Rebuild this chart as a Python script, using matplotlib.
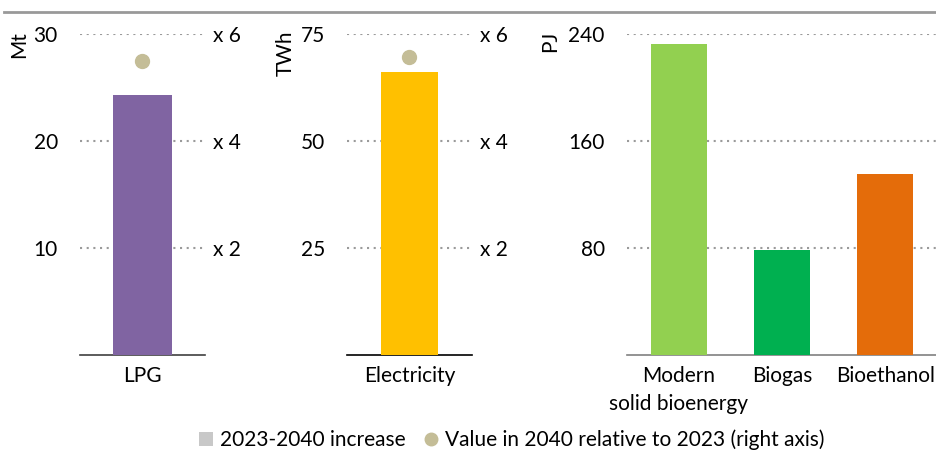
import matplotlib
matplotlib.use("Agg")
import matplotlib.pyplot as plt
from matplotlib.patches import Patch
from matplotlib.lines import Line2D

plt.rcParams["font.family"] = ["Lato", "DejaVu Sans"]

# ─── Data ────────────────────────────────────────────────────────────────────
lpg_cat      = ["LPG"]
lpg_increase = [24.3]          # Mt
lpg_ratio    = [5.5]           # x times 2023

elec_cat      = ["Electricity"]
elec_increase = [66.1]         # TWh
elec_ratio    = [5.57]

bio_cat      = ["Modern\nsolid bioenergy", "Biogas", "Bioethanol"]
bio_increase = [232.5, 78.5, 135.3]   # PJ

lpg_ticks  = [10, 20, 30]
elec_ticks = [25, 50, 75]
bio_ticks  = [80, 160, 240]
ratio_ticks  = [2, 4, 6]
ratio_labels = ["x 2", "x 4", "x 6"]

# ─── Style ───────────────────────────────────────────────────────────────────
C_LPG  = "#8064A2"
C_ELEC = "#FFC000"
C_BIO  = ["#92D050", "#00B050", "#E46C0A"]
C_DOT  = "#C4BD97"
C_GRID = "#9A9A9A"
FS = 15

W, H = 937, 454
fig = plt.figure(figsize=(W / 100, H / 100), dpi=100)

def px_axes(x0, x1, y_top=34, y_bot=355):
    return fig.add_axes([x0 / W, 1 - y_bot / H, (x1 - x0) / W, (y_bot - y_top) / H])

def style(ax, ticks, ymax, axis_color):
    ax.set_ylim(0, ymax)
    ax.set_yticks(ticks)
    ax.tick_params(axis="y", length=0, pad=16, labelsize=FS)
    ax.tick_params(axis="x", length=0, pad=8, labelsize=FS)
    for s in ["top", "right", "left"]:
        ax.spines[s].set_visible(False)
    ax.spines["bottom"].set_color(axis_color)
    ax.spines["bottom"].set_linewidth(1.2)
    ax.yaxis.grid(True, color=C_GRID, linestyle=(0, (1, 2.2)), linewidth=1.5)
    ax.set_axisbelow(True)

def add_ratio(ax, vals, scale_max):
    tw = ax.twinx()
    tw.set_ylim(0, scale_max)
    tw.set_yticks(ratio_ticks)
    tw.set_yticklabels(ratio_labels)
    tw.tick_params(axis="y", length=0, pad=6, labelsize=FS)
    for s in tw.spines.values():
        s.set_visible(False)
    tw.plot(range(len(vals)), vals, "o", color=C_DOT, markersize=10, zorder=5)
    return tw

# LPG
ax1 = px_axes(80, 205)
ax1.bar(range(len(lpg_cat)), lpg_increase, width=0.47, color=C_LPG, zorder=3)
ax1.set_xlim(-0.5, 0.5)
ax1.set_xticks(range(len(lpg_cat)))
ax1.set_xticklabels(lpg_cat)
style(ax1, lpg_ticks, 30, "#404040")
add_ratio(ax1, lpg_ratio, 6)

# Electricity
ax2 = px_axes(347, 472)
ax2.bar(range(len(elec_cat)), elec_increase, width=0.46, color=C_ELEC, zorder=3)
ax2.set_xlim(-0.5, 0.5)
ax2.set_xticks(range(len(elec_cat)))
ax2.set_xticklabels(elec_cat)
style(ax2, elec_ticks, 75, "#000000")
add_ratio(ax2, elec_ratio, 6)

# Bioenergy
ax3 = px_axes(627, 937)
ax3.bar(range(len(bio_cat)), bio_increase, width=0.54, color=C_BIO, zorder=3)
ax3.set_xlim(-0.5, 2.5)
ax3.set_xticks(range(len(bio_cat)))
ax3.set_xticklabels(bio_cat, linespacing=1.5, va="top")
style(ax3, bio_ticks, 240, "#808080")

# units
for x, txt in [(19, "Mt"), (286, "TWh"), (550, "PJ")]:
    fig.text(x / W, 1 - 31 / H, txt, rotation=90, ha="center", va="top", fontsize=FS)

# top rule
fig.add_artist(Line2D([4 / W, 1], [1 - 12 / H] * 2, color="#999999", linewidth=2))

# legend
handles = [
    Patch(facecolor="#C8C8C8", edgecolor="none"),
    Line2D([], [], marker="o", linestyle="none", color=C_DOT, markersize=9),
]
fig.legend(handles, ["2023-2040 increase", "Value in 2040 relative to 2023 (right axis)"],
           loc="center", bbox_to_anchor=(0.546, 1 - 440 / H), ncol=2, frameon=False,
           fontsize=FS, handlelength=0.7, handleheight=0.7, handletextpad=0.3,
           columnspacing=0.9, borderpad=0)

fig.savefig("out.png", dpi=100)
